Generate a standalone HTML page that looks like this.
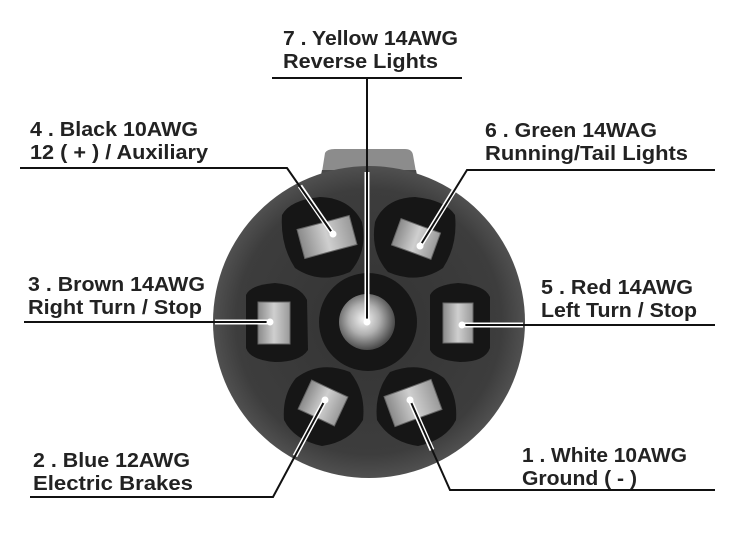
<!DOCTYPE html>
<html><head><meta charset="utf-8"><style>
html,body{margin:0;padding:0;background:#fff;width:750px;height:558px;overflow:hidden}
text{font-family:"Liberation Sans",sans-serif;font-weight:bold;font-size:20px;fill:#222}
</style></head><body>
<svg width="750" height="558" viewBox="0 0 750 558" xmlns="http://www.w3.org/2000/svg">
<defs>
<radialGradient id="body" cx="0.5" cy="0.5" r="0.5">
<stop offset="0" stop-color="#333"/><stop offset="0.85" stop-color="#3d3d3d"/><stop offset="1" stop-color="#505050"/></radialGradient>
<radialGradient id="ball" cx="0.45" cy="0.45" r="0.55">
<stop offset="0" stop-color="#f4f4f4"/><stop offset="0.5" stop-color="#b0b0b0"/><stop offset="1" stop-color="#4a4a4a"/></radialGradient>
<linearGradient id="term" x1="0" y1="0" x2="1" y2="0">
<stop offset="0" stop-color="#8a8a8a"/><stop offset="0.5" stop-color="#cfcfcf"/><stop offset="1" stop-color="#9a9a9a"/></linearGradient>
</defs>
<path d="M322,172 L325,153 Q327,149 335,149 L405,149 Q412,149 413,155 L416,172 Z" fill="#8c8c8c"/>
<path d="M322,170 L416,170 L418,180 L320,180 Z" fill="#4a4a4a"/>
<circle cx="369" cy="322" r="156" fill="url(#body)"/>
<circle cx="368" cy="322" r="49" fill="#161616"/>
<circle cx="367" cy="322" r="28" fill="url(#ball)"/>
<g fill="#161616">
<path d="M282,215 Q290,200 320,197 Q350,198 362,222 Q368,252 350,272 Q320,285 295,268 Q280,245 282,215 Z"/>
<path d="M375,222 Q385,198 415,197 Q445,200 455,215 Q458,245 443,268 Q418,285 388,272 Q370,252 375,222 Z"/>
<path d="M246,295 Q250,285 275,283 Q300,285 307,300 L308,350 Q300,362 275,362 Q250,360 246,348 Z"/>
<path d="M430,295 Q435,285 458,283 Q485,285 490,297 L490,348 Q485,362 460,362 Q435,360 430,350 Z"/>
<path d="M296,378 Q320,360 350,372 Q366,392 363,420 Q350,442 322,446 Q294,440 284,420 Q282,395 296,378 Z"/>
<path d="M390,372 Q420,360 444,378 Q458,395 456,420 Q446,440 418,446 Q390,442 377,420 Q374,392 390,372 Z"/>
</g>
<g fill="url(#term)" stroke="#666" stroke-width="1">
<rect x="300" y="222" width="54" height="30" transform="rotate(-15 327 237)"/>
<rect x="395" y="225" width="42" height="28" transform="rotate(20 416 239)"/>
<rect x="258" y="302" width="32" height="42"/>
<rect x="443" y="303" width="30" height="40"/>
<rect x="303" y="387" width="40" height="32" transform="rotate(25 323 403)"/>
<rect x="388" y="387" width="50" height="32" transform="rotate(-20 413 403)"/>
</g>
<g fill="none">
<g stroke="#fff" stroke-width="5">
<path d="M367,172 L367,322"/>
<path d="M300,186 L333,234"/>
<path d="M455,189 L420,246"/>
<path d="M215,322 L270,322"/>
<path d="M462,325 L523,325"/>
<path d="M325,400 L295,456"/>
<path d="M410,400 L432,450"/>
</g>
<g stroke="#111" stroke-width="2">
<path d="M272,78 L462,78 M367,78 L367,322"/>
<path d="M20,168 L287,168 L333,234"/>
<path d="M715,170 L467,170 L420,246"/>
<path d="M24,322 L270,322"/>
<path d="M462,325 L715,325"/>
<path d="M30,497 L273,497 L325,400"/>
<path d="M410,400 L450,490 L715,490"/>
</g>
</g>
<g fill="#fff">
<circle cx="367" cy="322" r="3.5"/><circle cx="333" cy="234" r="3.5"/><circle cx="420" cy="246" r="3.5"/>
<circle cx="270" cy="322" r="3.5"/><circle cx="462" cy="325" r="3.5"/><circle cx="325" cy="400" r="3.5"/><circle cx="410" cy="400" r="3.5"/>
</g>
<text x="283" y="45" textLength="175" lengthAdjust="spacingAndGlyphs">7 . Yellow 14AWG</text>
<text x="283" y="68" textLength="155" lengthAdjust="spacingAndGlyphs">Reverse Lights</text>
<text x="30" y="136" textLength="168" lengthAdjust="spacingAndGlyphs">4 . Black 10AWG</text>
<text x="30" y="159" textLength="178" lengthAdjust="spacingAndGlyphs">12 ( + ) / Auxiliary</text>
<text x="485" y="137" textLength="172" lengthAdjust="spacingAndGlyphs">6 . Green 14WAG</text>
<text x="485" y="160" textLength="203" lengthAdjust="spacingAndGlyphs">Running/Tail Lights</text>
<text x="28" y="291" textLength="177" lengthAdjust="spacingAndGlyphs">3 . Brown 14AWG</text>
<text x="28" y="314" textLength="174" lengthAdjust="spacingAndGlyphs">Right Turn / Stop</text>
<text x="541" y="294" textLength="152" lengthAdjust="spacingAndGlyphs">5 . Red 14AWG</text>
<text x="541" y="317" textLength="156" lengthAdjust="spacingAndGlyphs">Left Turn / Stop</text>
<text x="33" y="467" textLength="157" lengthAdjust="spacingAndGlyphs">2 . Blue 12AWG</text>
<text x="33" y="490" textLength="160" lengthAdjust="spacingAndGlyphs">Electric Brakes</text>
<text x="522" y="462" textLength="165" lengthAdjust="spacingAndGlyphs">1 . White 10AWG</text>
<text x="522" y="485" textLength="115" lengthAdjust="spacingAndGlyphs">Ground ( - )</text>
</svg>
</body></html>
